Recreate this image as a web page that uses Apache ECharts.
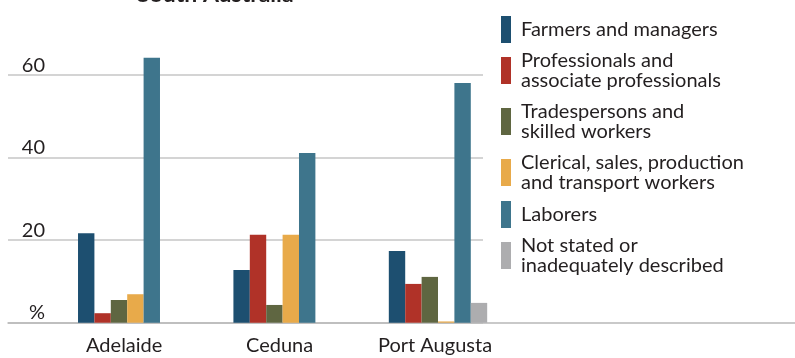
<!DOCTYPE html>
<html>
<head>
<meta charset="utf-8">
<script src="https://cdn.jsdelivr.net/npm/echarts@6/dist/echarts.min.js"></script>
<style>
  html, body { margin: 0; padding: 0; background: #ffffff; }
  #chart { width: 795px; height: 358px; }
</style>
</head>
<body>
<div id="chart"></div>
<script>
// Occupation shares (%) by town
const categories = ['Adelaide', 'Ceduna', 'Port Augusta'];
const seriesNames = [
  'Farmers and managers',
  'Professionals and associate professionals',
  'Tradespersons and skilled workers',
  'Clerical, sales, production and transport workers',
  'Laborers',
  'Not stated or inadequately described'
];
const legendLabels = [
  'Farmers and managers',
  'Professionals and\nassociate professionals',
  'Tradespersons and\nskilled workers',
  'Clerical, sales, production\nand transport workers',
  'Laborers',
  'Not stated or\ninadequately described'
];
const farmers       = [21.7, 12.8, 17.4];
const professionals = [2.3, 21.3, 9.4];
const tradespersons = [5.5, 4.3, 11.1];
const clerical      = [6.9, 21.3, 0.3];
const laborers      = [64.2, 41.1, 58.1];
const notStated     = [0, 0, 4.8];
const yTickLabels   = ['%', '20', '40', '60'];

const seriesValues = [farmers, professionals, tradespersons, clerical, laborers, notStated];
const colors = ['#1d4f70', '#b03228', '#5f6641', '#e8aa4a', '#3e758c', '#adadaf'];

const FONT = 'Lato, "Open Sans", sans-serif';
const TEXT = '#231f20';

// shared vertical layout for all grids: plot runs from the top edge to the baseline
const gridTop = 0;
const gridHeight = 322.7;
const yScale = { type: 'value', min: 0, max: 78.2, interval: 20 };

// one legend block per series, stacked down the right side
const legends = [];
let iconTop = 16;
seriesNames.forEach((name, i) => {
  const lines = legendLabels[i].split('\n').length;
  legends.push({
    show: true,
    data: [name],
    left: 501,
    top: iconTop - 2,
    orient: 'vertical',
    padding: 0,
    itemGap: 0,
    itemWidth: 10,
    itemHeight: 27,
    icon: 'rect',
    selectedMode: false,
    formatter: n => legendLabels[seriesNames.indexOf(n)],
    textStyle: {
      fontFamily: FONT,
      fontSize: 20,
      lineHeight: 20,
      color: TEXT,
      padding: lines === 1 ? [0, 0, 11, 5] : [9, 0, 0, 5]
    }
  });
  iconTop += (lines === 1 ? 27 : 46) + 5;
});

const option = {
  animation: false,
  backgroundColor: '#ffffff',
  title: {
    text: 'South Australia',
    left: 137,
    top: -17,
    padding: 0,
    textStyle: { fontFamily: FONT, fontSize: 23, fontWeight: 'bold', color: TEXT }
  },
  legend: legends,
  grid: [
    // bars
    { left: 49.5, width: 466.2, top: gridTop, height: gridHeight },
    // value gridlines and labels
    { left: 8, width: 475, top: gridTop, height: gridHeight },
    // baseline across the full width
    { left: 8, right: 0, top: gridTop, height: gridHeight }
  ],
  xAxis: [
    {
      gridIndex: 0, type: 'category', data: categories,
      axisLine: { show: false }, axisTick: { show: false },
      axisLabel: {
        fontFamily: FONT, fontSize: 20, color: TEXT, margin: 13,
        padding: [0, 6, 0, 0]
      }
    },
    { gridIndex: 1, type: 'category', data: categories, show: false },
    {
      gridIndex: 2, type: 'category', data: categories,
      axisLine: { show: true, lineStyle: { color: '#b8b8b8', width: 1.5 } },
      axisTick: { show: false }, axisLabel: { show: false }
    }
  ],
  yAxis: [
    Object.assign({ gridIndex: 0, show: false, splitLine: { show: false } }, yScale),
    Object.assign({
      gridIndex: 1,
      axisLine: { show: false }, axisTick: { show: false },
      splitLine: {
        show: true, showMaxLine: false,
        lineStyle: { color: '#c6c6c6', width: 1.5 }
      },
      axisLabel: {
        inside: true, align: 'right', verticalAlign: 'bottom', margin: 37,
        showMaxLabel: false,
        fontFamily: FONT, fontSize: 20, color: TEXT,
        formatter: v => yTickLabels[v / 20] || ''
      }
    }, yScale),
    Object.assign({ gridIndex: 2, show: false, splitLine: { show: false } }, yScale)
  ],
  series: seriesNames.map((name, i) => ({
    name: name,
    type: 'bar',
    xAxisIndex: 0,
    yAxisIndex: 0,
    data: seriesValues[i],
    barGap: '0%',
    barCategoryGap: '36.7%',
    itemStyle: { color: colors[i] }
  }))
};

const chart = echarts.init(document.getElementById('chart'), null, { renderer: 'canvas' });
chart.setOption(option);
</script>
</body>
</html>
